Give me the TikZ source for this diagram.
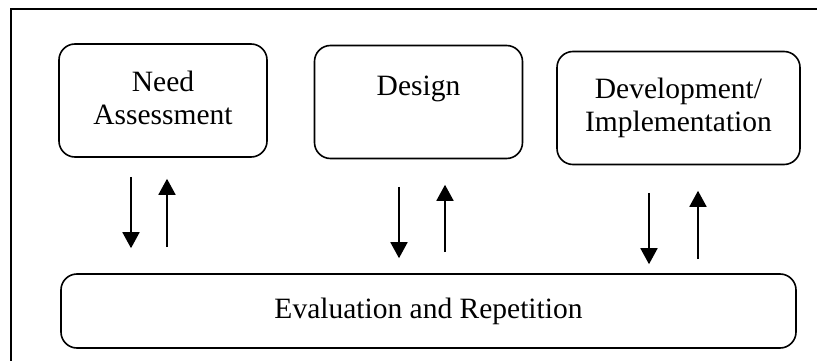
\documentclass[tikz,border=0pt]{standalone}
\usepackage{fontspec}
\setmainfont{Liberation Serif}
\usetikzlibrary{arrows.meta,calc}

\begin{document}
\begin{tikzpicture}
  [x=1pt, y=-1pt,
   every node/.style={font=\fontsize{29.5}{33}\selectfont, align=center},
   stage/.style={draw, line width=1.6pt, rounded corners=16pt,
     minimum width=208pt, minimum height=113pt, inner sep=0pt},
   flow/.style={line width=1.7pt, -{Triangle[length=16pt,width=17pt]}}]
  \useasboundingbox (0,0) rectangle (817,361);
  % outer frame
  \draw[line width=1.6pt] (11,9) rectangle (840,380);

  \node[stage] (need) at (163,100.5) {Need\\Assessment\\[-28pt]~};
  \node[stage] (design) at (418.5,102) {Design\\~};
  \node[stage, minimum width=243pt] (devel) at (678.5,108) {Development/\\Implementation};
  \node[stage, minimum width=735pt, minimum height=74pt] (eval) at (428.5,311)
    {Evaluation and Repetition};

  % down and up arrows
  \draw[flow] ($(need.south)+(-32,19)$) -- ($(eval.north -| need.south)+(-32,-25)$);
  \draw[flow] ($(eval.north -| need.south)+(4,-26)$) -- ($(need.south)+(4,21)$);
  \draw[flow] ($(design.south)+(-19.5,27.5)$) -- ($(eval.north -| design.south)+(-19.5,-15)$);
  \draw[flow] ($(eval.north -| design.south)+(26.5,-21)$) -- ($(design.south)+(26.5,25.5)$);
  \draw[flow] ($(devel.south)+(-29.5,27.5)$) -- ($(eval.north -| devel.south)+(-29.5,-9)$);
  \draw[flow] ($(eval.north -| devel.south)+(19.5,-14)$) -- ($(devel.south)+(19.5,25.5)$);
\end{tikzpicture}
\end{document}
